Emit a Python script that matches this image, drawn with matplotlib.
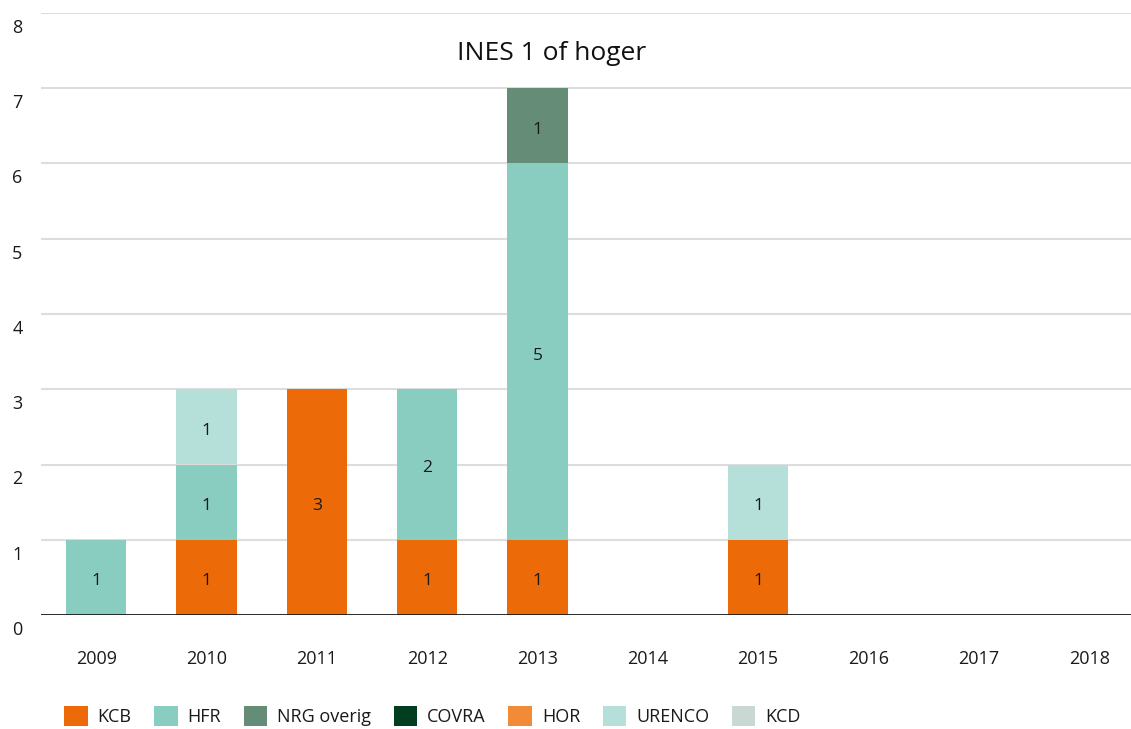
import matplotlib
matplotlib.use("Agg")
import matplotlib.pyplot as plt
import matplotlib.transforms as mtransforms
from matplotlib.patches import Patch
import numpy as np

plt.rcParams['font.family'] = ['Open Sans', 'DejaVu Sans']

jaren = ['2009', '2010', '2011', '2012', '2013', '2014', '2015', '2016', '2017', '2018']
series = ['KCB', 'HFR', 'NRG overig', 'COVRA', 'HOR', 'URENCO', 'KCD']
kleuren = ['#EC6A08', '#89CCC0', '#658C77', '#013E1F', '#F28B37', '#B5DFD9', '#C9D8D2']

kcb = [0, 1, 3, 1, 1, 0, 1, 0, 0, 0]
hfr = [1, 1, 0, 2, 5, 0, 0, 0, 0, 0]
nrg_overig = [0, 0, 0, 0, 1, 0, 0, 0, 0, 0]
covra = [0, 0, 0, 0, 0, 0, 0, 0, 0, 0]
hor = [0, 0, 0, 0, 0, 0, 0, 0, 0, 0]
urenco = [0, 1, 0, 0, 0, 0, 1, 0, 0, 0]
kcd = [0, 0, 0, 0, 0, 0, 0, 0, 0, 0]
waarden = [kcb, hfr, nrg_overig, covra, hor, urenco, kcd]

fig = plt.figure(figsize=(11.31, 7.29), dpi=100)
ax = fig.add_axes([41/1131, 114/729, 1 - 41/1131, (615-13)/729])

x = np.arange(len(jaren))
bodem = np.zeros(len(jaren))
# labels iets onder het midden, zoals in het origineel
zakken = mtransforms.ScaledTranslation(0, -4/100, fig.dpi_scale_trans)
for naam, vals, kleur in zip(series, waarden, kleuren):
    vals = np.array(vals, dtype=float)
    ax.bar(x, vals, width=0.545, bottom=bodem, color=kleur, zorder=3, linewidth=0)
    for xi, v, b in zip(x, vals, bodem):
        if v > 0:
            ax.text(xi, b + v/2, str(int(v)), ha='center', va='center',
                    fontsize=12.5, color='#1a1a1a', zorder=4,
                    transform=ax.transData + zakken)
    bodem += vals

ax.set_xlim(-0.5, 9.38)
ax.set_ylim(0, 8)
ax.set_yticks(range(0, 9))
ax.grid(axis='y', color='#dddddd', linewidth=1.5, zorder=0)
ax.axhline(0, color='#1a1a1a', linewidth=2, zorder=5)
for s in ax.spines.values():
    s.set_visible(False)

ax.set_xticks(x)
ax.set_xticklabels(jaren, fontsize=13, color='#1a1a1a')
ax.tick_params(axis='x', length=0, pad=25)
ax.tick_params(axis='y', length=0, pad=17, labelsize=13, labelcolor='#1a1a1a')
offset = mtransforms.ScaledTranslation(0, -13/100, fig.dpi_scale_trans)
for lbl in ax.get_yticklabels():
    lbl.set_transform(lbl.get_transform() + offset)
    lbl.set_horizontalalignment('center')

fig.text(552/1131, 1 - 53/729, 'INES 1 of hoger', ha='center', va='center',
         fontsize=19, color='#111111')

handles = [Patch(facecolor=k, edgecolor='none', label=s) for s, k in zip(series, kleuren)]
fig.legend(handles=handles, loc='center left', bbox_to_anchor=(57/1131, 1 - 716/729),
           ncol=7, frameon=False, fontsize=13, handlelength=1.3, handleheight=1.3,
           handletextpad=0.55, columnspacing=1.25, borderaxespad=0, labelcolor='#1a1a1a')

fig.savefig('out.png', dpi=100)
